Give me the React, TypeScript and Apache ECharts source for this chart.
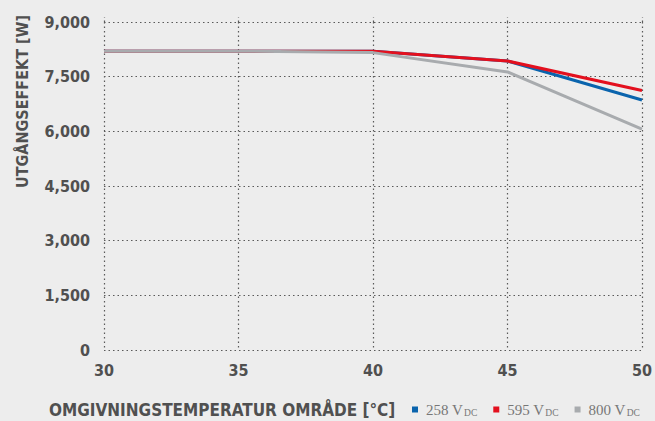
import React, { useEffect, useRef } from "react";
import * as echarts from "echarts";

const temps = [30, 35, 40, 45, 50];
const s258 = [8200, 8200, 8200, 7930, 6860];
const s595 = [8200, 8200, 8200, 7930, 7120];
const s800 = [8200, 8200, 8160, 7630, 6060];
const seriesNames = ["258", "595", "800"];
const colors = ["#0a64ad", "#e3101e", "#a8abae"];
const xTitle = "OMGIVNINGSTEMPERATUR OMRÅDE [°C]";
const yTitle = "UTGÅNGSEFFEKT [W]";

const FONT = "'DejaVu Sans Condensed', 'DejaVu Sans', sans-serif";
const SERIF = "'Liberation Serif', serif";
const DOT = { color: "#5a5a5a", type: [1.5, 3] as number[], width: 1.2 };

export default function App() {
  const ref = useRef<HTMLDivElement>(null);
  useEffect(() => {
    const chart = echarts.init(ref.current!, null, { renderer: "svg" });
    const datas = [s258, s595, s800];
    chart.setOption({
      animation: false,
      backgroundColor: "#ededed",
      grid: { left: 104, right: 11, top: 22, bottom: 71, containLabel: false },
      xAxis: [
        {
          type: "value",
          min: 30,
          max: 50,
          interval: 5,
          axisLine: { show: false },
          axisTick: { show: false },
          axisLabel: { color: "#505050", fontFamily: FONT, fontWeight: "bold", fontSize: 16, margin: 12 },
          splitLine: { show: true, lineStyle: DOT },
        },
        {
          type: "value",
          position: "top",
          min: 30,
          max: 50,
          interval: 5,
          axisLine: { show: false },
          axisTick: { show: true, length: 5, lineStyle: DOT },
          axisLabel: { show: false },
          splitLine: { show: false },
        },
      ],
      yAxis: {
        type: "value",
        min: 0,
        max: 9000,
        interval: 1500,
        axisLine: { show: false },
        axisTick: { show: false },
        axisLabel: {
          color: "#505050",
          fontFamily: FONT,
          fontWeight: "bold",
          fontSize: 16,
          margin: 14,
          formatter: (v: number) => v.toLocaleString("en-US"),
        },
        splitLine: { show: true, lineStyle: DOT },
      },
      legend: {
        left: 412,
        top: 402,
        padding: 0,
        icon: "rect",
        itemWidth: 6,
        itemHeight: 6,
        itemGap: 16,
        data: seriesNames,
        formatter: (n: string) => `{v|${n} V}{s|DC}`,
        textStyle: {
          rich: {
            v: { fontFamily: SERIF, fontSize: 15, color: "#777", padding: [0, 0, 0, 3] },
            s: { fontFamily: SERIF, fontSize: 9.5, color: "#777", padding: [7, 0, 0, 1] },
          },
        },
      },
      graphic: [
        {
          type: "text",
          left: 49,
          top: 401,
          style: { text: xTitle, font: `bold 17px ${FONT}`, fill: "#505050" },
        },
        {
          type: "text",
          x: 14,
          y: 188,
          rotation: Math.PI / 2,
          style: { text: yTitle, font: `bold 16px ${FONT}`, fill: "#505050", align: "left", verticalAlign: "top" },
        },
      ],
      series: seriesNames.map((n, i) => ({
        name: n,
        type: "line",
        data: temps.map((t, j) => [t, datas[i][j]]),
        symbol: "none",
        lineStyle: { color: colors[i], width: 3 },
        itemStyle: { color: colors[i] },
        z: i + 2,
      })),
    });
    return () => chart.dispose();
  }, []);
  return <div ref={ref} style={{ width: 655, height: 421, position: "absolute", left: 0, top: 0 }} />;
}
